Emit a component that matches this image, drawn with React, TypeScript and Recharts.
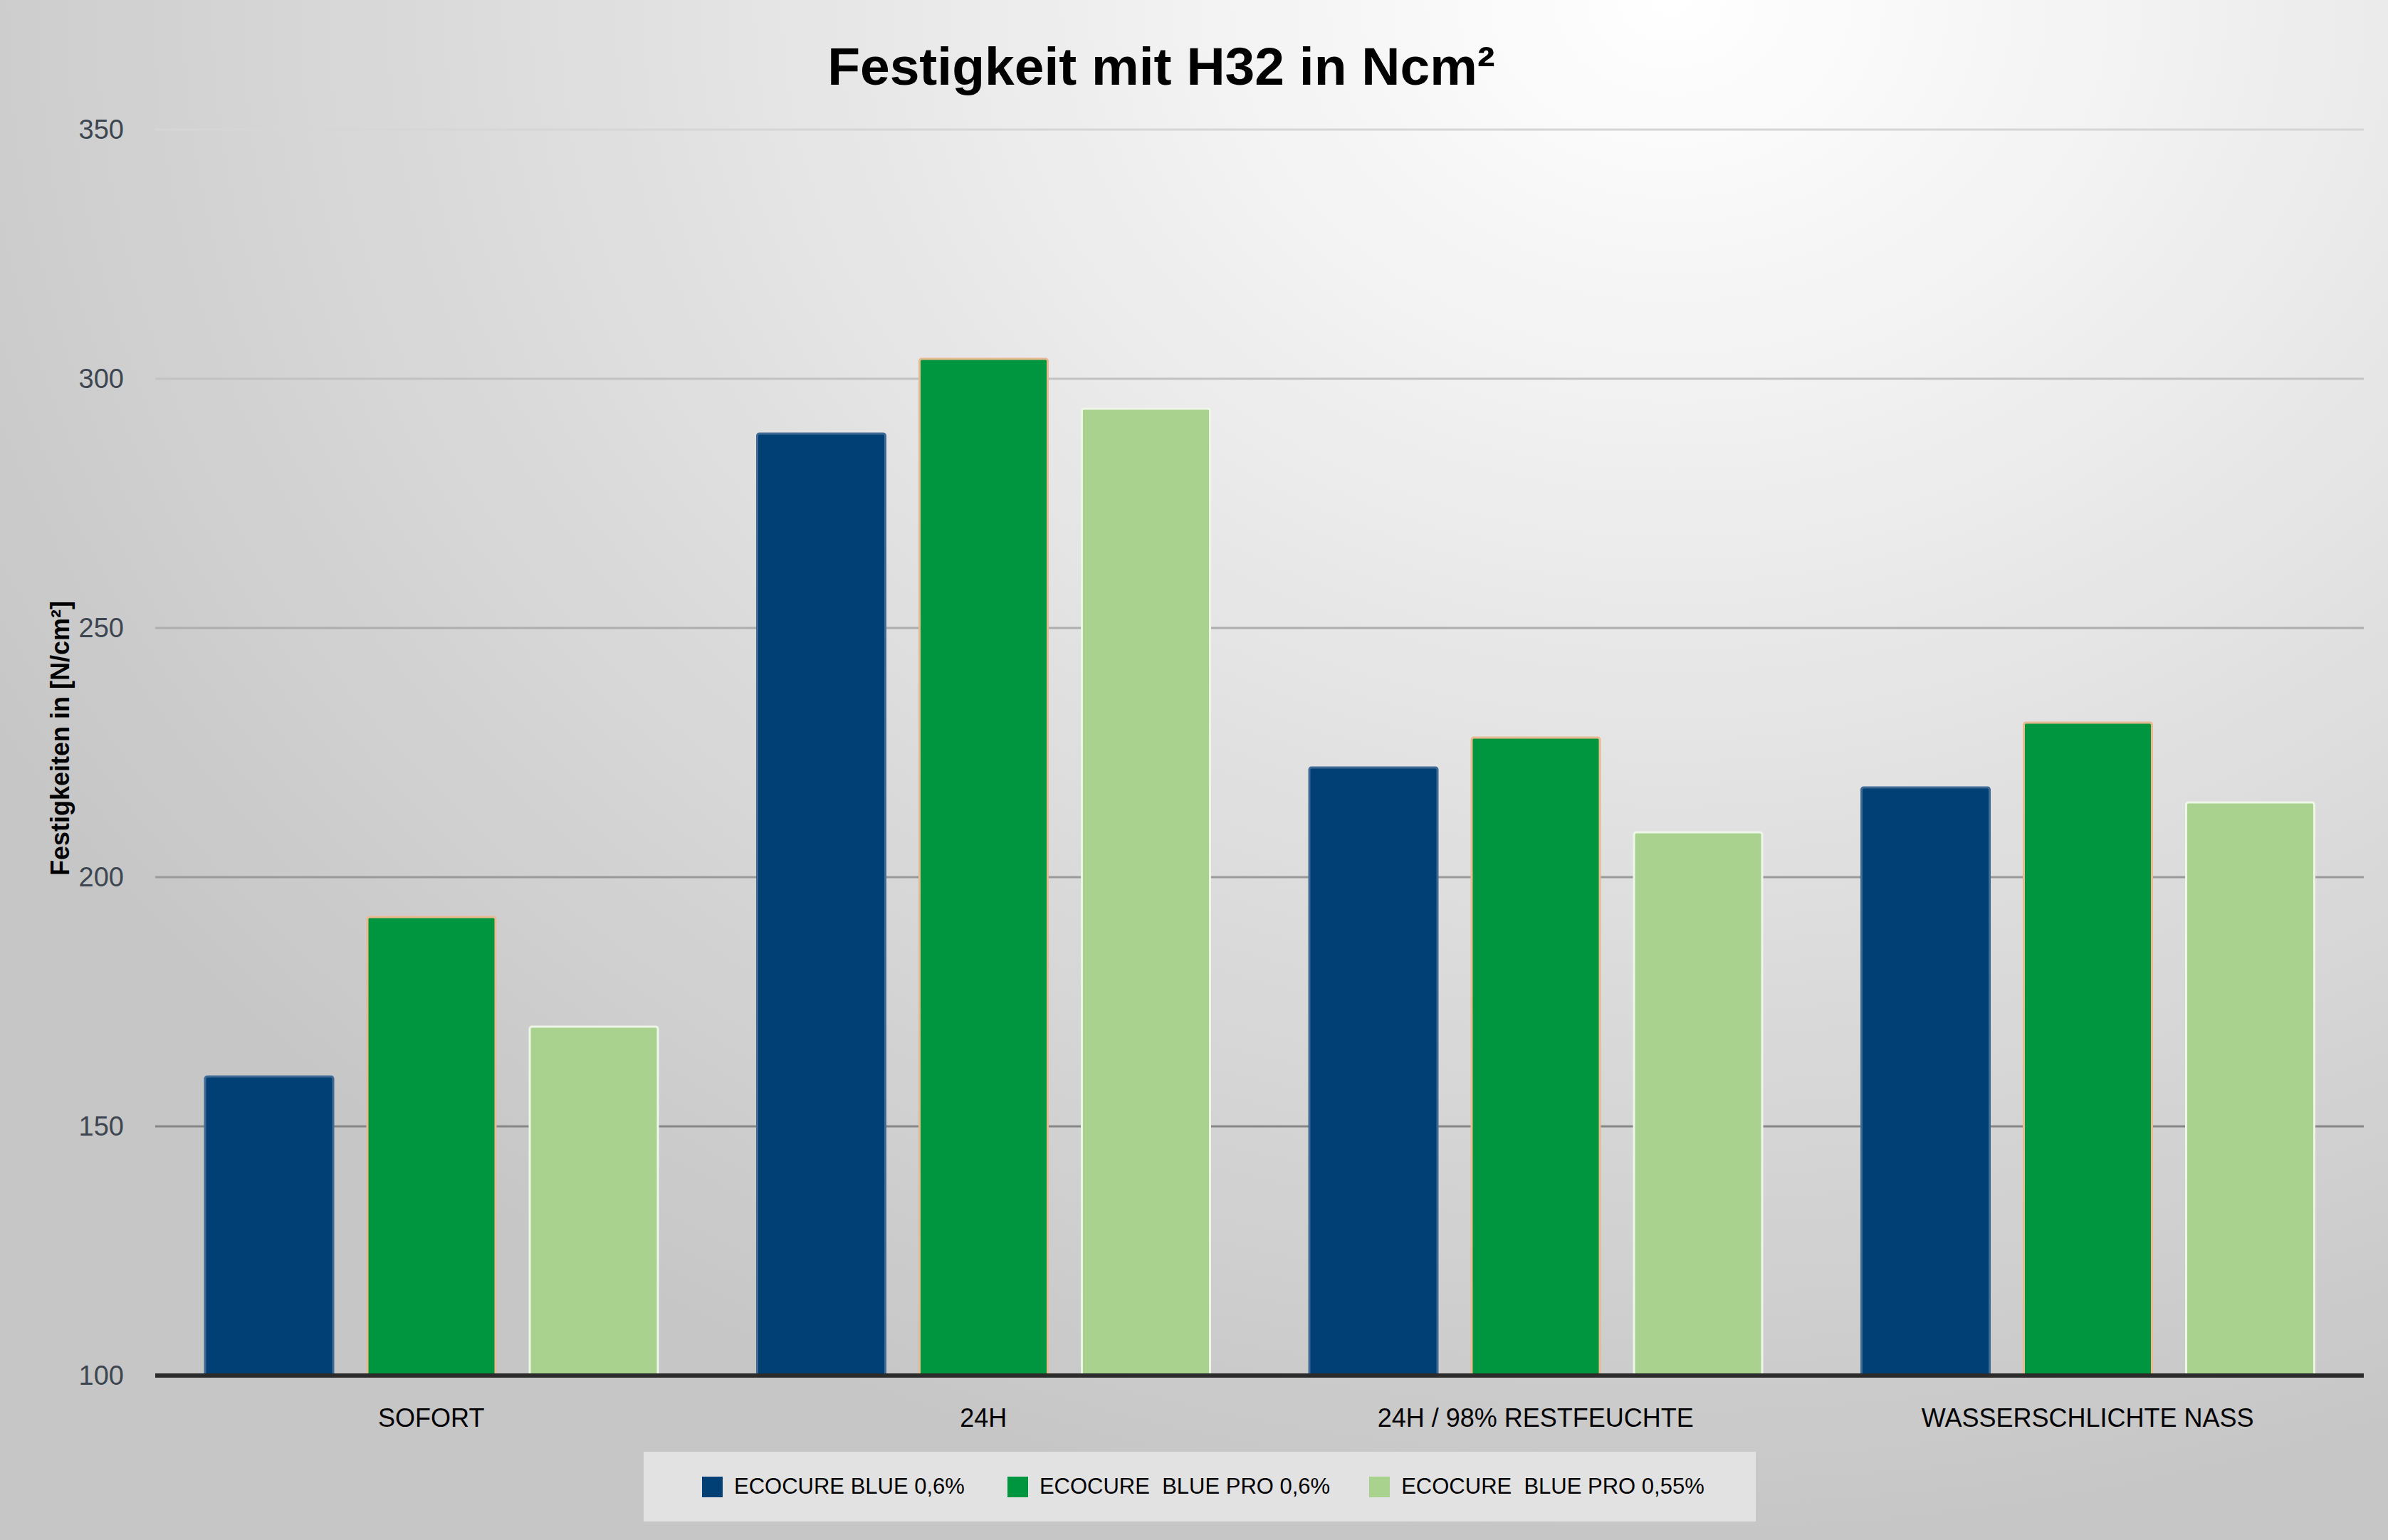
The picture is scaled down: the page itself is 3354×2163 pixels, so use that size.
import { Bar, BarChart, CartesianGrid, Label, Legend, XAxis, YAxis } from "recharts";

const categories = ["SOFORT", "24H", "24H / 98% RESTFEUCHTE", "WASSERSCHLICHTE NASS"];
const blue06 = [160, 289, 222, 218];
const bluePro06 = [192, 304, 228, 231];
const bluePro055 = [170, 294, 209, 215];
const yTicks = [100, 150, 200, 250, 300, 350];

const series = [
  { key: "blue06", name: "ECOCURE BLUE 0,6%", fill: "#004075", stroke: "#3f6a96" },
  { key: "bluePro06", name: "ECOCURE\u00a0 BLUE PRO 0,6%", fill: "#00953f", stroke: "#e9b98f" },
  { key: "bluePro055", name: "ECOCURE\u00a0 BLUE PRO 0,55%", fill: "#a9d28e", stroke: "#eef6e8" },
];

const data = categories.map((name, i) => ({
  name,
  blue06: blue06[i],
  bluePro06: bluePro06[i],
  bluePro055: bluePro055[i],
}));

const W = 3354;
const H = 2163;
const font = "'Liberation Sans', Arial, Helvetica, sans-serif";

// grid gets darker towards the bottom, like the original
const gridColor = (y: number) => {
  const t = Math.max(0, Math.min(1, (y - 182) / (1750 - 182)));
  const v = Math.round(0xd6 - t * (0xd6 - 0x7c));
  return `rgb(${v},${v},${v})`;
};

const GridLine = (props: any) => {
  const { x1, x2, y1, y2 } = props;
  return <line x1={x1} x2={x2} y1={y1} y2={y2} stroke={gridColor(y1)} strokeWidth={3} />;
};

const LegendBox = () => (
  <div
    style={{
      width: 1562,
      height: 98,
      background: "#e2e2e2",
      display: "flex",
      alignItems: "center",
      boxSizing: "border-box",
      paddingLeft: 82,
      fontFamily: font,
      fontSize: 31,
      color: "#000",
    }}
  >
    {series.map((s, i) => (
      <div key={s.key} style={{ display: "flex", alignItems: "center", marginRight: i === 0 ? 60 : 55 }}>
        <div style={{ width: 29, height: 29, background: s.fill, marginRight: 16 }} />
        <span style={{ whiteSpace: "pre" }}>{s.name}</span>
      </div>
    ))}
  </div>
);

const YLabel = () => {
  const cx = 84;
  const cy = 1037;
  return (
    <text
      x={cx}
      y={cy}
      transform={`rotate(-90 ${cx} ${cy})`}
      textAnchor="middle"
      dominantBaseline="central"
      fontFamily={font}
      fontWeight="bold"
      fontSize={36}
      fill="#000"
    >
      Festigkeiten in [N/cm²]
    </text>
  );
};

export default function App() {
  return (
    <div
      style={{
        position: "absolute",
        left: 0,
        top: 0,
        width: W,
        height: H,
        background:
          "radial-gradient(ellipse 80% 100% at 70% 0%, #ffffff 0%, #f2f2f2 25%, #dddddd 60%, #c6c6c6 100%)",
        fontFamily: font,
      }}
    >
      <div
        style={{
          position: "absolute",
          left: 0,
          width: 3262,
          top: 48,
          textAlign: "center",
          fontSize: 75,
          fontWeight: "bold",
          color: "#000",
          lineHeight: "90px",
        }}
      >
        Festigkeit mit H32 in Ncm²
      </div>
      <BarChart
        width={W}
        height={H}
        data={data}
        margin={{ top: 182, right: 34, bottom: 131, left: 0 }}
        barSize={180}
        barGap={48}
      >
        <CartesianGrid vertical={false} horizontal={GridLine as any} />
        <XAxis
          dataKey="name"
          height={100}
          interval={0}
          axisLine={{ stroke: "#2b2b2b", strokeWidth: 6 }}
          tickLine={false}
          tick={{ fill: "#000", fontSize: 36, fontFamily: font }}
          tickMargin={40}
        />
        <YAxis
          width={218}
          domain={[100, 350]}
          ticks={yTicks}
          allowDataOverflow
          axisLine={false}
          tickLine={false}
          tickMargin={38}
          tick={{ fill: "#3d4650", fontSize: 38, fontFamily: font }}
        >
          <Label content={YLabel} />
        </YAxis>
        <Legend
          layout="horizontal"
          verticalAlign="middle"
          align="center"
          content={() => <LegendBox />}
          wrapperStyle={{ left: 904, top: 2039, width: 1562, height: 98 }}
        />
        {series.map((s) => (
          <Bar
            key={s.key}
            dataKey={s.key}
            name={s.name}
            fill={s.fill}
            stroke={s.stroke}
            strokeWidth={3}
            radius={[3, 3, 0, 0]}
            isAnimationActive={false}
          />
        ))}
      </BarChart>
    </div>
  );
}
